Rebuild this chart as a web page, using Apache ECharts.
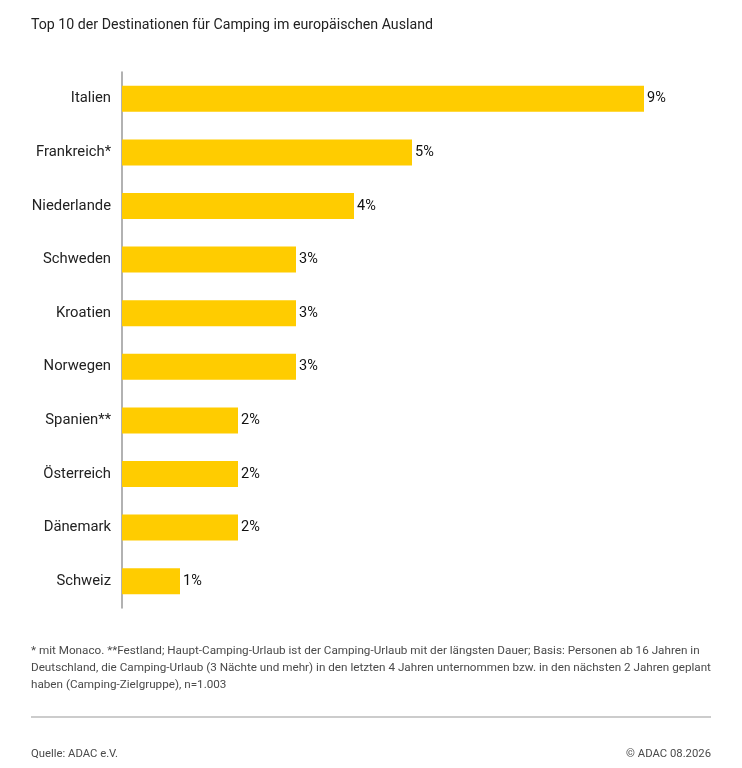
<!DOCTYPE html>
<html>
<head>
<meta charset="utf-8">
<script src="https://cdn.jsdelivr.net/npm/echarts@6/dist/echarts.min.js"></script>
<style>
html,body{margin:0;padding:0;background:#fff;}
#c{width:742px;height:768px;}
</style>
</head>
<body>
<div id="c"></div>
<script>
const categories = ["Italien","Frankreich*","Niederlande","Schweden","Kroatien","Norwegen","Spanien**","Österreich","Dänemark","Schweiz"];
const values = [9,5,4,3,3,3,2,2,2,1];
const titleText = "Top 10 der Destinationen für Camping im europäischen Ausland";
const footnoteLines = [
  "* mit Monaco. **Festland; Haupt-Camping-Urlaub ist der Camping-Urlaub mit der längsten Dauer; Basis: Personen ab 16 Jahren in",
  "Deutschland, die Camping-Urlaub (3 Nächte und mehr) in den letzten 4 Jahren unternommen bzw. in den nächsten 2 Jahren geplant",
  "haben (Camping-Zielgruppe), n=1.003"
];
const sourceText = "Quelle: ADAC e.V.";
const copyrightText = "© ADAC 08.2026";

const FONT = "Roboto";
const chart = echarts.init(document.getElementById('c'));
chart.setOption({
  backgroundColor: '#fff',
  animation: false,
  textStyle: {fontFamily: FONT},
  title: {
    text: titleText, left: 31, top: 18, padding: 0,
    textStyle: {fontFamily: FONT, fontSize: 14.2, fontWeight: 'normal', color: '#222'}
  },
  grid: {left: 122, top: 72, width: 522, height: 536, containLabel: false},
  xAxis: {type: 'value', min: 0, max: 9, show: false},
  yAxis: {
    type: 'category', data: categories, inverse: true,
    axisLine: {show: true, lineStyle: {color: '#999', width: 1.5}},
    axisTick: {show: false},
    axisLabel: {fontFamily: FONT, fontSize: 14.8, color: '#222', margin: 11}
  },
  series: [{
    type: 'bar', data: values, barWidth: 26,
    itemStyle: {color: '#FFCC00'},
    label: {show: true, position: 'right', distance: 3, formatter: '{c}%', fontFamily: FONT, fontSize: 14.5, color: '#111'}
  }],
  graphic: [
    {type: 'text', left: 31, top: 643, style: {text: footnoteLines.join('\n'), font: '11.7px ' + FONT, fill: '#4a4a4a', lineHeight: 17}},
    {type: 'line', shape: {x1: 31, y1: 717, x2: 711, y2: 717}, style: {stroke: '#bbb', lineWidth: 1.5}},
    {type: 'text', left: 31, top: 749, style: {text: sourceText, font: '11.3px ' + FONT, fill: '#4a4a4a'}},
    {type: 'text', right: 31, top: 749, style: {text: copyrightText, font: '11.3px ' + FONT, fill: '#4a4a4a'}}
  ]
});
</script>
</body>
</html>
